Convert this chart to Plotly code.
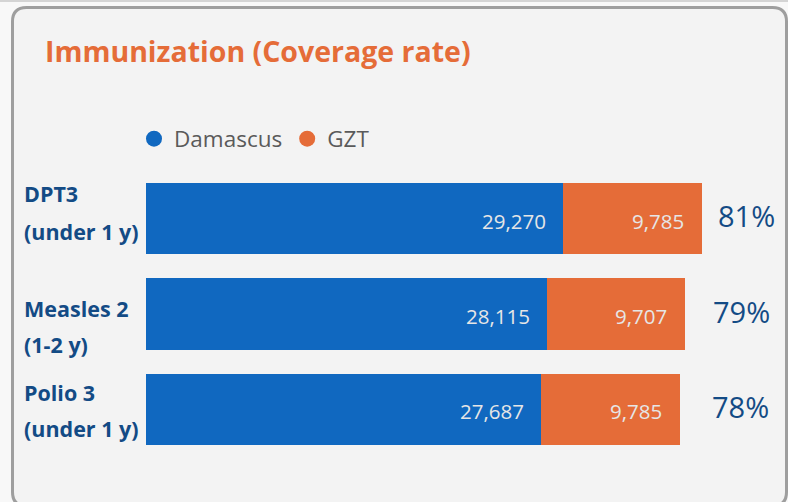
import plotly.graph_objects as go

# ---- data ----
categories = ["DPT3", "Measles 2", "Polio 3"]
label_line1 = ["DPT3", "Measles 2", "Polio 3"]
label_line2 = ["(under 1 y)", "(1-2 y)", "(under 1 y)"]
damascus = [29270, 28115, 27687]
gzt = [9785, 9707, 9785]
coverage = ["81%", "79%", "78%"]
series_names = ["Damascus", "GZT"]
title_text = "Immunization (Coverage rate)"

# ---- style ----
BLUE = "#1068c0"
ORANGE = "#e56c38"
LABEL_BLUE = "#134b85"
W, H = 788, 502
ML, MR, MT, MB = 146, 40, 171, 45
PW, PH = W - ML - MR, H - MT - MB
XMAX = 42250

def px(x):
    return (x - ML) / PW

def py(y):
    return 1 - (y - MT) / PH

fig = go.Figure()
fig.add_trace(go.Bar(y=categories, x=damascus, orientation="h", marker_color=BLUE,
                     marker_line_width=0, name=series_names[0], showlegend=False, hoverinfo="x"))
fig.add_trace(go.Bar(y=categories, x=gzt, orientation="h", marker_color=ORANGE,
                     marker_line_width=0, name=series_names[1], showlegend=False, hoverinfo="x"))
# legend entries with round symbols
for nm, col in zip(series_names, [BLUE, ORANGE]):
    fig.add_trace(go.Scatter(x=[None], y=[None], mode="markers", name=nm,
                             marker=dict(color=col, size=20, symbol="circle")))

ann = []
line1_shift = [25, 5.5, 16.5]
line2_shift = [-13, -30.5, -19.5]
pct_x = [746, 741, 740]
for i, c in enumerate(categories):
    ann.append(dict(x=px(22), xref="paper", y=c, yref="y", text=label_line1[i],
                    xanchor="left", yanchor="middle", yshift=line1_shift[i], showarrow=False,
                    font=dict(family="Open Sans", size=21.5, color=LABEL_BLUE, weight="bold")))
    ann.append(dict(x=px(22), xref="paper", y=c, yref="y", text=label_line2[i],
                    xanchor="left", yanchor="middle", yshift=line2_shift[i], showarrow=False,
                    font=dict(family="Open Sans", size=21.5, color=LABEL_BLUE, weight="bold")))
    ann.append(dict(x=damascus[i], xref="x", y=c, yref="y", text=f"{damascus[i]:,}",
                    xanchor="right", yanchor="middle", xshift=-15, yshift=-2, showarrow=False,
                    font=dict(family="Open Sans", size=20.5, color="#e6e6e6")))
    ann.append(dict(x=damascus[i] + gzt[i], xref="x", y=c, yref="y", text=f"{gzt[i]:,}",
                    xanchor="right", yanchor="middle", xshift=-16, yshift=-2, showarrow=False,
                    font=dict(family="Open Sans", size=20.5, color="#e6e6e6")))
    ann.append(dict(x=px(pct_x[i]), xref="paper", y=c, yref="y", text=coverage[i],
                    xanchor="center", yanchor="middle", yshift=3, showarrow=False,
                    font=dict(family="Open Sans", size=29, color=LABEL_BLUE)))

# card background with rounded corners
L, T, R, B, r = 12.5, 7.5, 786.5, 506, 14
path = (f"M {px(L)},{py(T + r)} Q {px(L)},{py(T)} {px(L + r)},{py(T)} "
        f"L {px(R - r)},{py(T)} Q {px(R)},{py(T)} {px(R)},{py(T + r)} "
        f"L {px(R)},{py(B - r)} Q {px(R)},{py(B)} {px(R - r)},{py(B)} "
        f"L {px(L + r)},{py(B)} Q {px(L)},{py(B)} {px(L)},{py(B - r)} Z")
shapes = [
    dict(type="path", xref="paper", yref="paper", path=path, layer="below",
         fillcolor="#f3f3f3", line=dict(color="#9e9e9e", width=3)),
    dict(type="line", xref="paper", yref="paper", x0=px(0), x1=px(W), y0=py(1), y1=py(1),
         layer="below", line=dict(color="#c8c8c8", width=1.5)),
]

fig.update_layout(
    width=W, height=H,
    margin=dict(l=ML, r=MR, t=MT, b=MB, pad=0),
    paper_bgcolor="#f8f8f8", plot_bgcolor="rgba(0,0,0,0)",
    barmode="stack", bargap=0.25,
    font=dict(family="Open Sans"),
    title=dict(text=title_text, x=45 / W, xanchor="left", xref="container",
               y=1 - 52 / H, yanchor="middle", yref="container",
               font=dict(family="Open Sans", size=28.5, color="#e56c38", weight="bold")),
    xaxis=dict(range=[0, XMAX], visible=False, fixedrange=True),
    yaxis=dict(categoryorder="array", categoryarray=categories, range=[2.5, -0.5],
               visible=False, fixedrange=True),
    legend=dict(orientation="h", x=px(134), xanchor="left", y=py(139), yanchor="middle",
                font=dict(family="Open Sans", size=22.5, color="#5a5a5a"),
                bgcolor="rgba(0,0,0,0)", itemsizing="trace", tracegroupgap=0,
                traceorder="normal"),
    showlegend=True,
    annotations=ann,
    shapes=shapes,
)

fig.write_html("out.html", config={"displayModeBar": False},
               post_script="document.body.style.margin='0';document.body.style.overflow='hidden';")
